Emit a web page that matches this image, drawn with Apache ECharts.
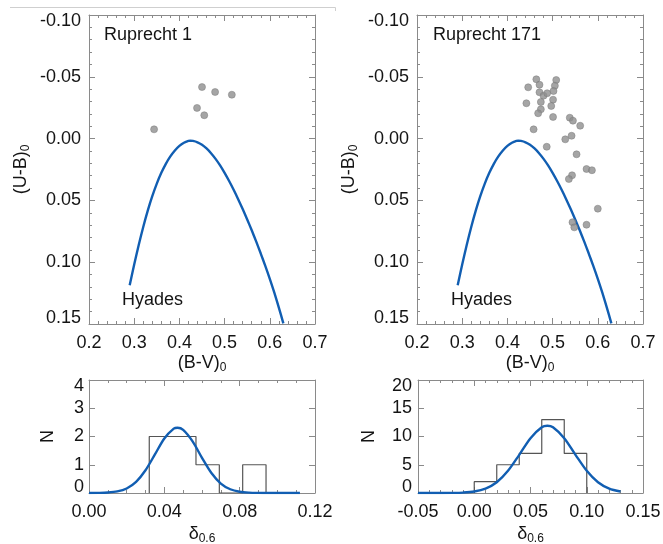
<!DOCTYPE html>
<html>
<head>
<meta charset="utf-8">
<script src="https://cdn.jsdelivr.net/npm/echarts@6/dist/echarts.min.js"></script>
<style>
html,body{margin:0;padding:0;background:#fff;}
#chart{width:663px;height:544px;}
</style>
</head>
<body>
<div id="chart"></div>
<script>
// ---------- data ----------
// Hyades two-colour sequence (B-V)0, (U-B)0
const hyadesBV = [0.290,0.300,0.310,0.320,0.330,0.340,0.350,0.360,0.370,0.380,0.390,0.400,0.410,0.420,0.424,0.430,0.440,0.450,0.460,0.470,0.480,0.490,0.500,0.510,0.520,0.530,0.540,0.550,0.560,0.570,0.580,0.590,0.600,0.610,0.620,0.630];
const hyadesUB = [0.1187,0.1019,0.0861,0.0715,0.0583,0.0466,0.0364,0.0277,0.0204,0.0144,0.0096,0.0059,0.0034,0.0019,0.0017,0.0019,0.0030,0.0050,0.0080,0.0118,0.0164,0.0217,0.0277,0.0343,0.0414,0.0490,0.0570,0.0654,0.0742,0.0834,0.0930,0.1030,0.1135,0.1247,0.1367,0.1495];

// Ruprecht 1 stars
const ru1BV = [0.450,0.479,0.516,0.439,0.455,0.344];
const ru1UB = [-0.0417,-0.0377,-0.0355,-0.0248,-0.0189,-0.0075];

// Ruprecht 171 stars
const ru171BV = [0.446,0.464,0.471,0.471,0.480,0.488,0.508,0.505,0.502,0.442,0.474,0.501,0.497,0.474,0.468,0.501,0.538,0.545,0.561,0.458,0.542,0.528,0.487,0.553,0.575,0.587,0.543,0.536,0.600,0.544,0.548,0.575];
const ru171UB = [-0.0415,-0.0480,-0.0436,-0.0375,-0.0347,-0.0367,-0.0474,-0.0428,-0.0385,-0.0286,-0.0296,-0.0315,-0.0264,-0.0237,-0.0205,-0.0175,-0.0169,-0.0145,-0.0104,-0.0075,-0.0023,0.0006,0.0066,0.0127,0.0246,0.0256,0.0297,0.0327,0.0567,0.0677,0.0718,0.0697];

// delta_0.6 histograms
const hist1Edges = [0.032,0.0444,0.0568,0.0692,0.0816,0.094];
const hist1Counts = [2,2,1,0,1];
const hist2Edges = [0.00,0.02,0.04,0.06,0.08,0.10];
const hist2Counts = [2,5,7,13,7];

// fitted gaussian curves
const gauss1X = [0.000,0.005,0.010,0.015,0.020,0.025,0.030,0.035,0.040,0.045,0.047,0.050,0.055,0.060,0.065,0.070,0.075,0.080,0.085,0.090,0.095,0.100,0.112];
const gauss1Y = [0.0007,0.0037,0.0156,0.055,0.161,0.394,0.804,1.365,1.931,2.277,2.31,2.235,1.828,1.246,0.707,0.335,0.132,0.043,0.012,0.003,0.0005,0.0001,0.0];
const gauss2X = [-0.05,-0.04,-0.03,-0.02,-0.01,0.00,0.01,0.02,0.03,0.04,0.05,0.06,0.065,0.07,0.08,0.09,0.10,0.11,0.12,0.13];
const gauss2Y = [0.0001,0.0005,0.0034,0.017,0.073,0.259,0.769,1.90,3.93,6.76,9.71,11.63,11.9,11.63,9.71,6.76,3.93,1.90,0.769,0.259];

// axis ticks
const topXTicks = {min:0.2, max:0.7, interval:0.1};
const topYTicks = {min:-0.10, max:0.15, interval:0.05};
const hist1XTicks = {min:0.00, max:0.12, interval:0.04};
const hist1YTicks = {min:0, max:4, interval:1};
const hist2XTicks = {min:-0.05, max:0.15, interval:0.05};
const hist2YTicks = {min:0, max:20, interval:5};

const clusterNames = ['Ruprecht 1','Ruprecht 171'];
const curveName = 'Hyades';

// ---------- styling ----------
const FONT = 'Liberation Sans';
const AXC = '#8a8a8a';
const TXT = '#141414';
const BLUE = '#115eb2';

function pairs(xs, ys){ return xs.map((x,i)=>[x, ys[i]]); }
function stepData(edges, counts){
  const d = [[edges[0],0]];
  counts.forEach((c,i)=>d.push([edges[i],c]));
  d.push([edges[edges.length-1],0]);
  return d;
}
function edgeFmt(dec, lo, hi, inverse){
  return function(v){
    const s = (Math.abs(v) < 1e-12 ? 0 : v).toFixed(dec);
    const topV = inverse ? lo : hi, botV = inverse ? hi : lo;
    if (Math.abs(v-topV) < 1e-9) return '{t|'+s+'}';
    if (Math.abs(v-botV) < 1e-9) return '{b|'+s+'}';
    return '{n|'+s+'}';
  };
}
const labRich = {
  n:{fontSize:18, fontFamily:FONT, color:TXT},
  t:{fontSize:18, fontFamily:FONT, color:TXT, padding:[12,0,0,0]},
  b:{fontSize:18, fontFamily:FONT, color:TXT, padding:[0,0,12,0]}
};
const nameRich = {
  m:{fontSize:18, fontFamily:FONT, color:TXT, padding:[0,0,2,0]},
  s:{fontSize:12, fontFamily:FONT, color:TXT, verticalAlign:'bottom'}
};

function baseAxis(grid, t, minor, position){
  return {
    type:'value', gridIndex:grid, position:position,
    min:t.min, max:t.max, interval:t.interval,
    axisLine:{show:true, onZero:false, lineStyle:{color:AXC, width:1}},
    axisTick:{show:true, inside:true, length:6, lineStyle:{color:AXC, width:1}},
    minorTick:{show:minor>0, splitNumber:minor||5, length:3, lineStyle:{color:AXC, width:1}},
    splitLine:{show:false}, minorSplitLine:{show:false},
    axisLabel:{show:false},
    nameMoveOverlap:false
  };
}

const xAxes = [], yAxes = [];
function addFrame(grid, xt, xMinor, xDec, xName, xGap, yt, yMinor, yDec, yInv, yName, yGap, yMargin){
  const xb = baseAxis(grid, xt, xMinor, 'bottom');
  xb.axisLabel = {show:true, margin:10, formatter:(v)=>'{n|'+(Math.abs(v)<1e-12?0:v).toFixed(xDec)+'}', rich:labRich, hideOverlap:false, showMinLabel:true, showMaxLabel:true};
  xb.name = xName; xb.nameLocation = 'middle'; xb.nameGap = xGap;
  xb.nameTextStyle = {rich:nameRich};
  const xtp = baseAxis(grid, xt, xMinor, 'top');
  const yl = baseAxis(grid, yt, yMinor, 'left');
  yl.inverse = yInv;
  yl.axisLabel = {show:true, margin:yMargin, formatter:edgeFmt(yDec, yt.min, yt.max, yInv), rich:labRich, hideOverlap:false, showMinLabel:true, showMaxLabel:true};
  yl.name = yName; yl.nameLocation = 'middle'; yl.nameGap = yGap; yl.nameRotate = 90;
  yl.nameTextStyle = {rich:nameRich};
  const yr = baseAxis(grid, yt, yMinor, 'right');
  yr.inverse = yInv;
  xAxes.push(xb, xtp); yAxes.push(yl, yr);
}

const bvName = '{m|(B-V)}{s|0}';
const ubName = '{m|(U-B)}{s|0}';
const dName = '{m|δ}{s|0.6}';
const nName = '{m|N}';

addFrame(0, topXTicks, 5, 1, bvName, 30, topYTicks, 5, 2, true, ubName, 57, 8);
addFrame(1, topXTicks, 5, 1, bvName, 30, topYTicks, 5, 2, true, ubName, 57, 8);
addFrame(2, hist1XTicks, 4, 2, dName, 32, hist1YTicks, 0, 0, false, nName, 30, 5);
addFrame(3, hist2XTicks, 5, 2, dName, 32, hist2YTicks, 0, 0, false, nName, 38, 6);

const lineStyleBlue = {color:BLUE, width:2.4};
const scatterStyle = {color:'#8f8f8f', borderColor:'#787878', borderWidth:0.6};

const series = [
  {type:'line', name:curveName, xAxisIndex:0, yAxisIndex:0, data:pairs(hyadesBV,hyadesUB), smooth:0.3, showSymbol:false, symbol:'none', lineStyle:lineStyleBlue, z:3},
  {type:'scatter', name:clusterNames[0], xAxisIndex:0, yAxisIndex:0, data:pairs(ru1BV,ru1UB), symbolSize:7, itemStyle:scatterStyle, z:4},
  {type:'line', name:curveName, xAxisIndex:2, yAxisIndex:2, data:pairs(hyadesBV,hyadesUB), smooth:0.3, showSymbol:false, symbol:'none', lineStyle:lineStyleBlue, z:3},
  {type:'scatter', name:clusterNames[1], xAxisIndex:2, yAxisIndex:2, data:pairs(ru171BV,ru171UB), symbolSize:7, itemStyle:scatterStyle, z:4},
  {type:'line', xAxisIndex:4, yAxisIndex:4, data:stepData(hist1Edges,hist1Counts), step:'end', showSymbol:false, symbol:'none', lineStyle:{color:'#555', width:1.2}, z:2},
  {type:'line', xAxisIndex:4, yAxisIndex:4, data:pairs(gauss1X,gauss1Y), smooth:0.3, showSymbol:false, symbol:'none', lineStyle:lineStyleBlue, z:3},
  {type:'line', xAxisIndex:6, yAxisIndex:6, data:stepData(hist2Edges,hist2Counts), step:'end', showSymbol:false, symbol:'none', lineStyle:{color:'#555', width:1.2}, z:2},
  {type:'line', xAxisIndex:6, yAxisIndex:6, data:pairs(gauss2X,gauss2Y), smooth:0.3, showSymbol:false, symbol:'none', lineStyle:lineStyleBlue, z:3}
];

function label(text, x, y){
  return {type:'text', x:x, y:y, silent:true, z:10,
    style:{text:text, font:'18px "'+FONT+'"', fill:TXT, align:'left', verticalAlign:'middle', textAlign:'left', textVerticalAlign:'middle'}};
}

const option = {
  animation:false,
  backgroundColor:'#fff',
  grid:[
    {left:89, top:15, width:226, height:309, outerBoundsMode:'none'},
    {left:417, top:15, width:226, height:309, outerBoundsMode:'none'},
    {left:89, top:380, width:226, height:113, outerBoundsMode:'none'},
    {left:418, top:380, width:225, height:113, outerBoundsMode:'none'}
  ],
  xAxis:xAxes,
  yAxis:yAxes,
  series:series,
  graphic:[
    label(clusterNames[0], 104, 35),
    label(clusterNames[1], 433, 35),
    label(curveName, 122, 300),
    label(curveName, 451, 300),
    {type:'line', silent:true, shape:{x1:10, y1:7.5, x2:335.5, y2:7.5}, style:{stroke:'#cfcfcf', lineWidth:1}},
    {type:'line', silent:true, shape:{x1:335.5, y1:7.5, x2:335.5, y2:11}, style:{stroke:'#cfcfcf', lineWidth:1}}
  ]
};

const chart = echarts.init(document.getElementById('chart'), null, {renderer:'canvas'});
chart.setOption(option);
</script>
</body>
</html>
